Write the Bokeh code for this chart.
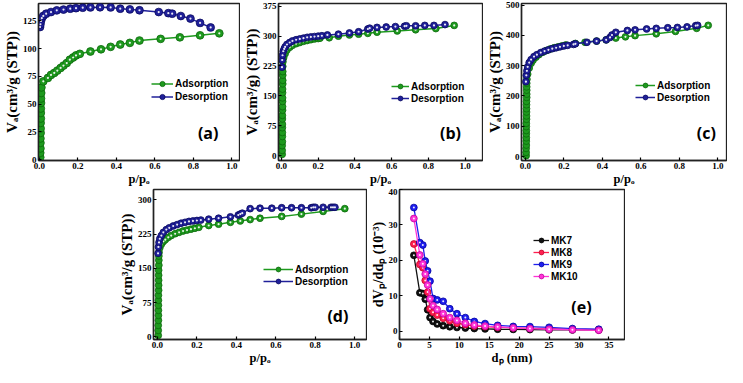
from bokeh.plotting import figure
from bokeh.layouts import column, row, Spacer
from bokeh.models import (FixedTicker, PrintfTickFormatter, Legend, LegendItem,
                          Label, Range1d)
from bokeh.embed import file_html
from bokeh.resources import INLINE

# ---------------- data ----------------
# (a)
A_COL_P = [0.004, 0.004, 0.005, 0.005, 0.005, 0.006, 0.006, 0.006, 0.007, 0.007, 0.007, 0.008, 0.008, 0.009, 0.01]
A_COL_V = [2, 6, 10, 15, 19, 24, 28, 33, 37, 42, 46, 51, 55, 60, 65]
A_ADS_P = [0.02, 0.044, 0.06, 0.077, 0.093, 0.11, 0.125, 0.142, 0.158, 0.175, 0.19, 0.21, 0.265, 0.32, 0.37, 0.42, 0.47, 0.52, 0.63, 0.73, 0.835, 0.935]
A_ADS_V = [70.5, 73.6, 76.3, 78.1, 80.2, 82.6, 84.7, 87, 90, 92, 93.9, 95.3, 97.4, 99.4, 101.6, 103.7, 105.2, 107.3, 108.8, 110.2, 112, 113.8]
A_DES_P = [0.003, 0.005, 0.008, 0.012, 0.02, 0.035, 0.06, 0.09, 0.125, 0.16, 0.19, 0.225, 0.265, 0.315, 0.37, 0.42, 0.47, 0.52, 0.62, 0.67, 0.69, 0.735, 0.785, 0.835, 0.89]
A_DES_V = [119.5, 122, 125, 127.5, 129.5, 131.5, 133, 134.5, 135.2, 136, 136.5, 136.9, 137.2, 137.3, 137.2, 136, 135.4, 134.6, 133, 132, 131.5, 129.4, 127.1, 123.2, 119.1]

# (b)
B_COL_P = [0.004, 0.004, 0.004, 0.005, 0.005, 0.005, 0.005, 0.005, 0.005, 0.005, 0.006, 0.006, 0.006, 0.006, 0.006, 0.006, 0.007, 0.007, 0.007, 0.007, 0.007]
B_COL_V = [3, 13, 25, 35, 48, 58, 70, 79, 92, 101, 114, 123, 136, 145, 158, 167, 180, 189, 202, 211, 224]
B_ADS_P = [0.008, 0.012, 0.02, 0.03, 0.045, 0.06, 0.08, 0.1, 0.12, 0.14, 0.16, 0.18, 0.2, 0.21, 0.26, 0.31, 0.37, 0.42, 0.47, 0.52, 0.63, 0.73, 0.84, 0.94]
B_ADS_V = [236, 246, 256, 265, 272, 277, 281, 284, 287, 289, 291, 293, 294, 295, 296, 300, 303, 305, 307, 310, 313, 316, 319, 327]
B_DES_P = [0.003, 0.004, 0.006, 0.01, 0.015, 0.02, 0.03, 0.045, 0.06, 0.08, 0.1, 0.12, 0.14, 0.16, 0.18, 0.2, 0.22, 0.25, 0.31, 0.37, 0.42, 0.47, 0.48, 0.52, 0.57, 0.62, 0.67, 0.68, 0.73, 0.78, 0.83, 0.89]
B_DES_V = [222, 240, 252, 262, 268, 273, 279, 284, 288, 291, 293, 295, 297, 298, 299, 300, 301, 303, 305, 308, 311, 318, 320, 322, 323, 324, 325, 326, 326, 327, 327, 329]

# (c)
C_COL_P = [0.004, 0.004, 0.004, 0.005, 0.005, 0.005, 0.005, 0.005, 0.005, 0.005, 0.006, 0.006, 0.006, 0.006, 0.006, 0.006, 0.007, 0.007, 0.007, 0.007, 0.007]
C_COL_V = [3, 14, 27, 38, 51, 62, 75, 86, 99, 110, 123, 134, 147, 158, 171, 182, 195, 206, 219, 230, 242]
C_ADS_P = [0.008, 0.012, 0.02, 0.03, 0.04, 0.055, 0.07, 0.09, 0.11, 0.13, 0.15, 0.17, 0.19, 0.21, 0.26, 0.31, 0.37, 0.42, 0.47, 0.52, 0.57, 0.68, 0.78, 0.89, 0.95]
C_ADS_V = [255, 272, 292, 308, 318, 328, 336, 344, 350, 355, 359, 362, 365, 368, 373, 377, 381, 385, 391, 395, 399, 405, 413, 423, 433]
C_DES_P = [0.003, 0.005, 0.008, 0.012, 0.02, 0.03, 0.045, 0.06, 0.08, 0.1, 0.12, 0.14, 0.16, 0.18, 0.2, 0.22, 0.25, 0.26, 0.32, 0.37, 0.42, 0.44, 0.45, 0.47, 0.53, 0.57, 0.63, 0.68, 0.74, 0.79, 0.84, 0.885, 0.895]
C_DES_V = [247, 268, 283, 296, 310, 320, 330, 336, 343, 348, 352, 356, 359, 362, 365, 367, 370, 372, 377, 381, 385, 393, 401, 410, 416, 418, 421, 423, 425, 426, 428, 432, 433]

# (d)
D_COL_P = [0.004, 0.004, 0.004, 0.005, 0.005, 0.005, 0.005, 0.005, 0.005, 0.006, 0.006, 0.006, 0.006, 0.006, 0.007, 0.007, 0.007]
D_COL_V = [3, 14, 25, 36, 47, 58, 69, 80, 91, 102, 113, 124, 135, 146, 157, 168, 177]
D_ADS_P = [0.008, 0.012, 0.02, 0.03, 0.04, 0.055, 0.07, 0.09, 0.11, 0.13, 0.15, 0.17, 0.19, 0.21, 0.26, 0.31, 0.37, 0.42, 0.47, 0.52, 0.63, 0.73, 0.84, 0.95]
D_ADS_V = [185, 195, 203, 209, 213, 218, 222, 226, 229, 232, 234, 236, 238, 240, 244, 247, 251, 254, 257, 260, 264, 269, 275, 281]
D_DES_P = [0.003, 0.005, 0.008, 0.012, 0.02, 0.03, 0.045, 0.06, 0.08, 0.1, 0.12, 0.14, 0.16, 0.18, 0.2, 0.22, 0.26, 0.31, 0.37, 0.41, 0.42, 0.43, 0.47, 0.52, 0.58, 0.63, 0.68, 0.73, 0.78, 0.79, 0.8, 0.84, 0.88, 0.89, 0.9]
D_DES_V = [183, 197, 207, 215, 222, 229, 235, 239, 243, 246, 249, 251, 253, 254, 255, 256, 258, 260, 263, 267, 269, 271, 281, 282, 282, 283, 283, 283, 283, 284, 284, 284, 284, 284, 284]

# (e) pore size distribution
E_DP = [2.4, 3.4, 3.9, 4.3, 4.7, 5.1, 5.6, 6.3, 7.3, 8.4, 9.6, 11.0, 12.5, 14.3, 16.4, 19.0, 21.8, 25.0, 28.9, 33.3]
E_MK7 = [21.4, 10.8, 10.6, 9.0, 6.0, 3.8, 2.7, 2.0, 1.5, 1.2, 1.0, 0.85, 0.7, 0.6, 0.5, 0.45, 0.4, 0.35, 0.3, 0.3]
E_MK8 = [24.6, 18.8, 17.9, 14.3, 11.0, 6.3, 5.3, 4.5, 3.6, 2.9, 2.2, 1.8, 1.4, 1.25, 1.05, 0.9, 0.8, 0.7, 0.5, 0.35]
E_MK9 = [34.9, 25.0, 24.3, 19.8, 17.0, 14.1, 9.2, 8.8, 8.4, 6.3, 4.9, 3.8, 2.7, 2.1, 1.6, 1.3, 1.25, 1.05, 0.7, 0.5]
E_MK10 = [31.8, 21.5, 19.0, 16.1, 13.0, 9.1, 7.2, 6.1, 4.9, 3.8, 3.0, 2.2, 1.7, 1.4, 1.2, 0.9, 0.7, 0.5, 0.35, 0.2]
E_NAMES = ["MK7", "MK8", "MK9", "MK10"]

ISO_XTICKS = [0.0, 0.2, 0.4, 0.6, 0.8, 1.0]
A_YTICKS = [0, 25, 50, 75, 100, 125]
B_YTICKS = [0, 75, 150, 225, 300, 375]
C_YTICKS = [0, 100, 200, 300, 400, 500]
D_YTICKS = [0, 75, 150, 225, 300]
E_XTICKS = [0, 5, 10, 15, 20, 25, 30, 35]
E_YTICKS = [0, 10, 20, 30, 40]

ISO_XLABEL = "p/pₒ"
A_YLABEL = "Vₐ(cm³/g (STP))"
B_YLABEL = "Vₐ(cm³/g) (STP))"
E_XLABEL = "dₚ (nm)"
E_YLABEL = "dVₚ/ddₚ (10⁻³)"

# ---------------- style ----------------
GREEN, GREEN_EDGE = "#1e9a1e", "#0c6a0c"
NAVY, NAVY_EDGE = "#20209a", "#0a0a60"
E_COLORS = ["#111111", "#ff2050", "#1f1fef", "#ff33d6"]
E_EDGES = ["#000000", "#c0002a", "#0000a0", "#c000a0"]
SERIF = "Liberation Serif"
SANS = "Liberation Sans"


def base_fig(width, height, bl, br, bt, bb, xr, yr, xticks, yticks, xfmt,
             xlabel, ylabel, ysize="15px"):
    p = figure(width=width, height=height, min_border_left=bl, min_border_right=br,
               min_border_top=bt, min_border_bottom=bb,
               x_range=Range1d(*xr), y_range=Range1d(*yr),
               output_backend="svg", toolbar_location=None)
    p.grid.visible = False
    p.outline_line_color = "#222222"
    p.outline_line_width = 1.3
    p.background_fill_color = "white"
    p.border_fill_color = "white"
    p.xaxis.ticker = FixedTicker(ticks=xticks)
    p.yaxis.ticker = FixedTicker(ticks=yticks)
    if xfmt:
        p.xaxis.formatter = PrintfTickFormatter(format=xfmt)
    for ax in (p.xaxis[0], p.yaxis[0]):
        ax.axis_line_color = "#222222"
        ax.axis_line_width = 1.5
        ax.major_tick_in = 3
        ax.major_tick_out = 0
        ax.major_tick_line_width = 1.2
        ax.minor_tick_line_color = None
        ax.major_label_text_font = SERIF
        ax.major_label_text_font_style = "bold"
        ax.major_label_text_font_size = "9px"
        ax.major_label_text_color = "black"
        ax.major_label_standoff = 2
        ax.axis_label_text_font = SERIF
        ax.axis_label_text_font_style = "bold"
        ax.axis_label_text_color = "black"
        ax.axis_label_standoff = 0
    p.xaxis.axis_label = xlabel
    p.xaxis.axis_label_text_font_size = "12.5px"
    p.yaxis.axis_label = ylabel
    p.yaxis.axis_label_text_font_size = ysize
    return p


def make_legend(items, loc, glyph_w, glyph_h, font_size):
    return Legend(items=items, location=loc, padding=0, margin=0, spacing=0,
                  glyph_height=glyph_h, glyph_width=glyph_w, label_height=glyph_h,
                  label_standoff=2, border_line_color=None, background_fill_alpha=0,
                  label_text_font=SANS, label_text_font_style="bold",
                  label_text_font_size=font_size, label_text_color="black")


def iso_panel(width, height, bl, br, bt, bb, xr, yr, yticks, ylabel,
              col_p, col_v, ads_p, ads_v, des_p, des_v, msize,
              leg_loc, glyph_w, pitch, tag, tag_xy):
    p = base_fig(width, height, bl, br, bt, bb, xr, yr, ISO_XTICKS, yticks, "%.1f",
                 ISO_XLABEL, ylabel)
    ax = list(col_p) + list(ads_p)
    ay = list(col_v) + list(ads_v)
    al = p.line(ax, ay, line_color=GREEN, line_width=1.5)
    asc = p.scatter(ax, ay, size=msize, fill_color=GREEN, line_color=GREEN_EDGE, line_width=0.8)
    p.scatter(ads_p, ads_v, size=2.2, fill_color="white", line_color=None, fill_alpha=0.9)
    dl = p.line(des_p, des_v, line_color=NAVY, line_width=1.5)
    dsc = p.scatter(des_p, des_v, size=msize, fill_color=NAVY, line_color=NAVY_EDGE, line_width=0.8)
    p.scatter(des_p, des_v, size=2.2, fill_color="white", line_color=None, fill_alpha=0.9)
    p.add_layout(make_legend([LegendItem(label="Adsorption", renderers=[al, asc]),
                              LegendItem(label="Desorption", renderers=[dl, dsc])],
                             leg_loc, glyph_w, pitch, "10px"))
    p.add_layout(Label(x=tag_xy[0], y=tag_xy[1], text=tag, text_align="center",
                       text_baseline="middle", text_font="Open Sans", text_font_style="bold",
                       text_font_size="16px", text_color="black"))
    return p


TOP_H = 188
pa = iso_panel(240, TOP_H, 32, 1, 3, 0, (-0.005, 1.04), (-0.9, 140.7), A_YTICKS,
               A_YLABEL, A_COL_P, A_COL_V, A_ADS_P, A_ADS_V, A_DES_P, A_DES_V,
               7.8, (113, 57), 22, 13, "(a)", (0.877, 24))
pb = iso_panel(243, TOP_H, 33, 1, 3, 0, (-0.016, 1.094), (-12.4, 382), B_YTICKS,
               B_YLABEL, B_COL_P, B_COL_V, B_ADS_P, B_ADS_V, B_DES_P, B_DES_V,
               6.8, (113, 56), 18, 12, "(b)", (0.92, 57))
pc = iso_panel(244, TOP_H, 32, 1, 3, 0, (-0.02, 1.045), (-13, 505), C_YTICKS,
               A_YLABEL, C_COL_P, C_COL_V, C_ADS_P, C_ADS_V, C_DES_P, C_DES_V,
               6.8, (114, 57), 20, 12, "(c)", (0.94, 78))

BOT_H = 179
pd = iso_panel(252, BOT_H, 34, 1, 1, 0, (-0.02, 1.06), (-6, 323), D_YTICKS,
               A_YLABEL, D_COL_P, D_COL_V, D_ADS_P, D_ADS_V, D_DES_P, D_DES_V,
               6.8, (110, 52), 30, 12, "(d)", (0.915, 46))

pe = base_fig(258, BOT_H, 32, 1, 1, 0, (0, 37.6), (-2.4, 40), E_XTICKS, E_YTICKS, None,
              E_XLABEL, E_YLABEL, ysize="14px")
items = []
for name, vals, col, edge in zip(E_NAMES, [E_MK7, E_MK8, E_MK9, E_MK10], E_COLORS, E_EDGES):
    l = pe.line(E_DP, vals, line_color=col, line_width=1.3)
    s = pe.scatter(E_DP, vals, size=6.8, fill_color=col, line_color=edge, line_width=0.8)
    pe.scatter(E_DP, vals, size=2.0, fill_color="white", line_color=None, fill_alpha=0.9)
    items.append(LegendItem(label=name, renderers=[l, s]))
pe.add_layout(make_legend(items, (134, 57), 16, 12, "10px"))
pe.add_layout(Label(x=30.4, y=6.7, text="(e)", text_align="center", text_baseline="middle",
                    text_font="Open Sans", text_font_style="bold", text_font_size="16px",
                    text_color="black"))

layout = column(row(pa, pb, pc), row(Spacer(width=115, height=BOT_H), pd, pe))

open("out.html", "w").write(file_html(layout, INLINE))
